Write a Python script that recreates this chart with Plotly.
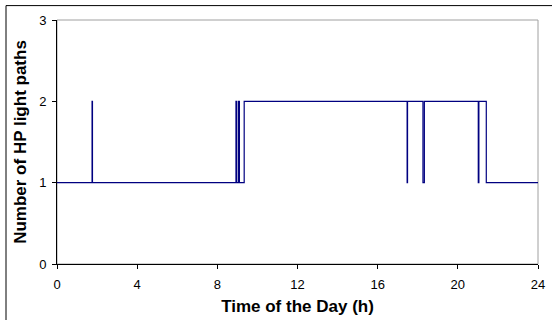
import plotly.graph_objects as go

# Step series: time of day (h) and number of HP light paths
times = [0, 1.75, 1.77, 8.93, 8.97, 9.06, 9.10, 9.34, 17.47, 17.49, 18.26, 18.33, 21.02, 21.05, 21.42, 24]
values = [1, 2, 1, 2, 1, 2, 1, 2, 1, 2, 1, 2, 1, 2, 1, 1]

x_ticks = [0, 4, 8, 12, 16, 20, 24]
y_ticks = [0, 1, 2, 3]

fig = go.Figure()
fig.add_trace(go.Scatter(x=times, y=values, mode="lines",
                         line=dict(color="#000080", width=1.2, shape="hv"),
                         showlegend=False, hoverinfo="skip"))

font = "Liberation Sans, Arial, sans-serif"
fig.update_layout(
    width=552, height=320,
    margin=dict(l=57, r=14, t=20, b=56),
    paper_bgcolor="white", plot_bgcolor="white",
    font=dict(family=font, size=13, color="black"),
    xaxis=dict(range=[0, 24], tickvals=x_ticks, showgrid=False, zeroline=False,
               showline=True, linecolor="black", linewidth=1, automargin=False,
               ticks="outside", ticklen=4, tickcolor="black", ticklabelstandoff=4,
               title=dict(text="<b>Time of the Day (h)</b>", font=dict(size=17), standoff=9)),
    yaxis=dict(range=[0, 3], tickvals=y_ticks, showgrid=False, zeroline=False,
               showline=True, linecolor="black", linewidth=1, automargin=False,
               ticks="outside", ticklen=4, tickcolor="black", ticklabelstandoff=3,
               title=dict(text="<b>Number of HP light paths</b>", font=dict(size=17), standoff=8)),
    shapes=[
        dict(type="rect", xref="paper", yref="paper", x0=0, x1=1, y0=0, y1=1,
             line=dict(color="#a0a0a0", width=1), layer="below"),
        dict(type="rect", xref="paper", yref="paper", x0=-0.106, x1=1.2, y0=-0.4, y1=1.059,
             line=dict(color="black", width=1), layer="below"),
    ],
)

fig.write_html("out.html")
